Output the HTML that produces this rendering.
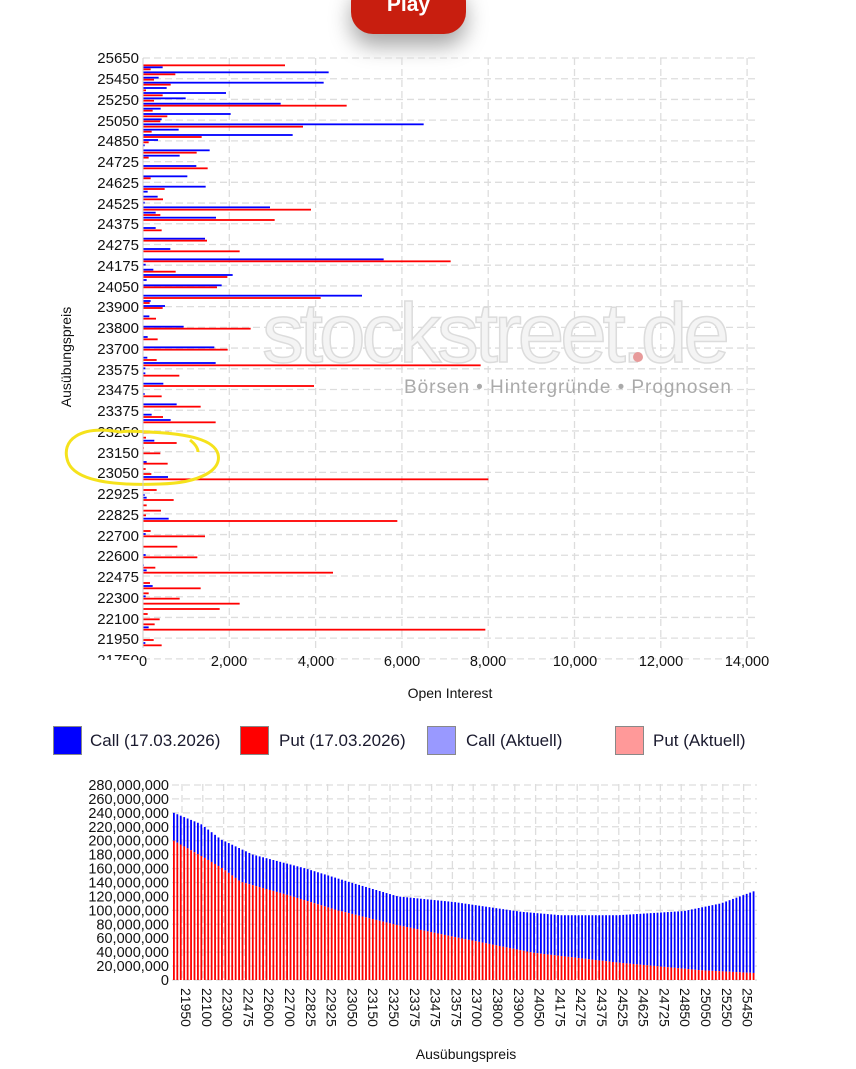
<!DOCTYPE html>
<html><head><meta charset="utf-8"><style>
body{margin:0;background:#fff;width:856px;height:1069px;overflow:hidden;font-family:"Liberation Sans",sans-serif;position:relative}
.lg{position:absolute;top:726px;width:29px;height:29px;border:1.5px solid #888;box-sizing:border-box}
.lt{position:absolute;top:731px;font-size:17px;color:#1a1a2e}
</style></head><body>
<div style="position:absolute;left:351px;top:-20px;width:115px;height:54px;background:#c81e0f;border-radius:22px;box-shadow:0 12px 22px rgba(0,0,0,0.35);color:#fff;font-weight:bold;font-size:21px;text-align:center;line-height:50px">Play</div>
<svg width="856" height="1069" style="position:absolute;left:0;top:0" id="s">
<defs><clipPath id="c1"><rect x="0" y="640" width="142" height="20"/></clipPath></defs>
<g id="grid" stroke="#ddd" stroke-width="1.3" stroke-dasharray="7,4" fill="none"></g>
<g font-family="Liberation Sans,sans-serif">
<text x="262" y="362" font-size="84" fill="#f4f4f4" stroke="#dcdcdc" stroke-width="1.5" textLength="468">stockstreet.de</text>
<circle cx="638" cy="357" r="5" fill="#e79a9a"/>
<text x="404" y="393" font-size="19" fill="#aaa" textLength="327">Börsen • Hintergründe • Prognosen</text>
</g>
<g id="bars"></g>
<g id="bars2"></g>
<g font-size="15" fill="#111" text-anchor="end">
<text x="139" y="63">25650</text><text x="139" y="84">25450</text><text x="139" y="105">25250</text><text x="139" y="126">25050</text><text x="139" y="146">24850</text><text x="139" y="167">24725</text><text x="139" y="188">24625</text><text x="139" y="209">24525</text><text x="139" y="229">24375</text><text x="139" y="250">24275</text><text x="139" y="271">24175</text><text x="139" y="292">24050</text><text x="139" y="312">23900</text><text x="139" y="333">23800</text><text x="139" y="354">23700</text><text x="139" y="375">23575</text><text x="139" y="395">23475</text><text x="139" y="416">23375</text><text x="139" y="437">23250</text><text x="139" y="458">23150</text><text x="139" y="478">23050</text><text x="139" y="499">22925</text><text x="139" y="520">22825</text><text x="139" y="541">22700</text><text x="139" y="561">22600</text><text x="139" y="582">22475</text><text x="139" y="603">22300</text><text x="139" y="624">22100</text><text x="139" y="644">21950</text>
<text x="139" y="665" clip-path="url(#c1)">21750</text>
</g>
<g font-size="14.5" fill="#111" text-anchor="middle">
<text x="143" y="666">0</text><text x="229" y="666">2,000</text><text x="316" y="666">4,000</text><text x="402" y="666">6,000</text><text x="488" y="666">8,000</text><text x="575" y="666">10,000</text><text x="661" y="666">12,000</text><text x="747" y="666">14,000</text>
<text x="450" y="698" font-size="14">Open Interest</text>
<text transform="translate(71,357) rotate(-90)" font-size="14">Ausübungspreis</text>
<text x="466" y="1059" font-size="14">Ausübungspreis</text>
</g>
<path d="M120,432 C80,425 60,440 68,462 C75,480 110,486 160,484 C200,483 222,470 218,454 C214,440 190,434 150,432 C140,432 130,430 120,432 M190,440 C195,444 198,448 198,452" fill="none" stroke="#f5e21c" stroke-width="3"/>
<g font-size="14.5" fill="#111" text-anchor="end" id="y2"></g>
<g font-size="14" fill="#111" id="x2"></g>
</svg>
<div class="lg" style="left:53px;background:#0000ff"></div><div class="lt" style="left:90px">Call (17.03.2026)</div>
<div class="lg" style="left:240px;background:#ff0000"></div><div class="lt" style="left:279px">Put (17.03.2026)</div>
<div class="lg" style="left:427px;background:#9999ff"></div><div class="lt" style="left:466px">Call (Aktuell)</div>
<div class="lg" style="left:615px;background:#ff9999"></div><div class="lt" style="left:653px">Put (Aktuell)</div>
<script>
var NS="http://www.w3.org/2000/svg";
function el(p,t,a){var e=document.createElementNS(NS,t);for(var k in a)e.setAttribute(k,a[k]);p.appendChild(e);return e;}
var g=document.getElementById('grid');
for(var i=0;i<30;i++){var y=58+i*20.72;el(g,'line',{x1:143,x2:756,y1:y,y2:y});}
for(var i=1;i<8;i++){var x=143+i*86.3;el(g,'line',{x1:x,x2:x,y1:58,y2:648});}
el(document.getElementById('s'),'line',{x1:143,x2:143,y1:58,y2:648,stroke:'#ccc','stroke-width':1});
var z1="76,705,r;82,338,b;88,302,r;97,836,b;103,376,r;113,326,b;119,312,r;128,821,b;134,362,r;144,350,b;151,288,r;159,528,b;166,338,r;175,407,b;182,312,r;191,692,b;197,890,r;206,332,b;212,308,r;222,542,b;229,352,r;238,335,b;244,331,r;253,1121,b;260,759,r;269,386,b;275,305,r;285,728,b;291,455,r;300,324,b;307,296,r;316,284,b;331,479,b;338,440,r;347,389,b;353,296,r;378,439,b;385,473,r;409,412,b;415,302,r;440,467,b;447,344,r;455,293,b;470,323,b;478,339,r;488,284,b;502,660,b;509,783,r;518,317,b;525,331,r;533,498,b;540,674,r;564,317,b;571,335,r;596,465,b;602,471,r;627,361,b;634,569,r;658,1001,b;664,1202,r;674,287,b;689,310,b;695,377,r;705,548,b;711,532,r;720,290,b;736,515,b;742,501,r;767,936,b;774,812,r;783,302,b;789,299,r;798,345,b;804,338,r;829,298,b;836,318,r;860,401,b;866,602,r;891,293,b;898,323,r";
var z2="22,493,b;29,533,r;53,292,b;60,320,r;69,497,b;76,1292,r;85,286,b;100,286,b;107,388,r;131,340,b;138,792,r;162,284,b;169,335,r;193,380,b;200,452,r;224,305,b;231,339,r;240,362,b;247,497,r;278,357,r;293,288,r;302,313,b;309,380,r;324,281,r;340,331,r;366,290,b;371,353,r;387,287,r;402,304,r;411,354,b;418,1315,r;433,296,r;450,320,r;465,284,b;473,290,b;480,371,r;496,290,r;512,333,r;526,288,r;536,356,b;543,1042,r;573,302,r;582,287,b;589,465,r;620,382,r;645,287,b;652,442,r;676,281,b;683,316,r;691,290,b;698,849,r;729,300,r;738,308,b;745,452,r;760,296,r;769,287,b;776,389,r;791,569,r;807,509,r;822,293,r;838,329,r;853,314,r;862,296,b;869,1306,r;900,311,r;909,286,b;916,335,r";
var B=document.getElementById('bars');
function draw(s,oy){s.split(';').forEach(function(t){var p=t.split(',');var y=oy+(+p[0])/3,xe=50+(+p[1])/3;
el(B,'rect',{x:143,y:y-0.9,width:Math.max(xe-143,0.8),height:1.8,fill:p[2]=='b'?'#0000ff':'#ff0000'});});}
draw(z1,40);draw(z2,340);
var y0=980,st=13.93;
var Y2=document.getElementById('y2');
for(var i=0;i<=14;i++){var y=y0-i*st;el(g,'line',{x1:172,x2:757,y1:y,y2:y});
var t=el(Y2,'text',{x:169,y:y+5});t.textContent=(i*20000000).toLocaleString('en-US');}
var labs=[21950,22100,22300,22475,22600,22700,22825,22925,23050,23150,23250,23375,23475,23575,23700,23800,23900,24050,24175,24275,24375,24525,24625,24725,24850,25050,25250,25450];
var X2=document.getElementById('x2');
labs.forEach(function(l,i){var x=182+i*20.8;el(g,'line',{x1:x,x2:x,y1:784,y2:980});
var t=el(X2,'text',{transform:'translate('+(x-1)+',988) rotate(90)'});t.textContent=l;});
function interp(pts,x){for(var i=0;i<pts.length-1;i++){if(x<=pts[i+1][0]){var a=pts[i],b=pts[i+1];return a[1]+(b[1]-a[1])*(x-a[0])/(b[0]-a[0]);}}return pts[pts.length-1][1];}
var tot=[[173,240],[200,224],[220,202],[252,180],[305,160],[350,140],[397,120],[453,112],[520,98],[560,93],[617,93],[683,99],[720,110],[754,128]];
var red=[[173,200],[203,176],[222,160],[240,141],[287,122],[337,100],[393,80],[453,62],[533,39],[617,25],[700,14],[754,10]];
var B2=document.getElementById('bars2');
for(var x=173;x<=755;x+=3.43){var T=interp(tot,x),R=interp(red,x);
var yt=y0-T/20*st,yr=y0-R/20*st;
el(B2,'rect',{x:x,y:yt,width:1.8,height:yr-yt,fill:'#0000ff'});
el(B2,'rect',{x:x,y:yr,width:1.8,height:y0-yr,fill:'#ff0000'});}
</script>
</body></html>
